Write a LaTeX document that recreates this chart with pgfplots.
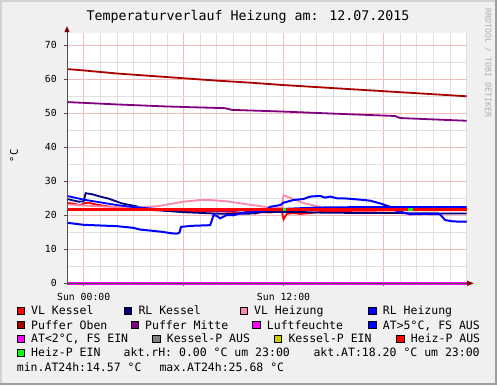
\documentclass[border=0pt]{standalone}
\usepackage{fontspec}
\setmainfont{DejaVu Sans Mono}
\usepackage{pgfplots}
\pgfplotsset{compat=1.18}
\usetikzlibrary{arrows.meta}
\definecolor{bggray}{RGB}{240,240,240}
\definecolor{lightedge}{RGB}{210,210,210}
\definecolor{darkedge}{RGB}{158,158,158}
\definecolor{axgray}{RGB}{80,80,80}
\definecolor{arrowred}{RGB}{128,0,0}
\definecolor{mgrid}{RGB}{242,188,188}
\definecolor{mingrid}{RGB}{224,224,224}
\definecolor{cVLK}{RGB}{255,0,0}
\definecolor{cRLK}{RGB}{0,0,128}
\definecolor{cVLH}{RGB}{255,136,170}
\definecolor{cRLH}{RGB}{0,0,255}
\definecolor{cPO}{RGB}{170,0,0}
\definecolor{cPM}{RGB}{128,0,128}
\definecolor{cLF}{RGB}{255,0,255}
\definecolor{cAT}{RGB}{0,0,255}
\definecolor{cKPA}{RGB}{128,128,128}
\definecolor{cKPE}{RGB}{204,204,0}
\definecolor{cHPA}{RGB}{255,0,0}
\definecolor{cHPE}{RGB}{0,255,0}
\definecolor{wm}{RGB}{175,175,175}
\newcommand{\legfont}{\fontsize{11.5}{12}\selectfont}
\newcommand{\legitem}[4]{%
  \filldraw[fill=#3, draw=black, line width=0.6pt] (#1pt-14.0pt, 385pt-#2pt+0.3pt) rectangle ++(7.4pt,7.4pt);
  \node[anchor=base west, inner sep=0pt] at (#1pt, 385pt-#2pt) {\legfont #4};}
\newcommand{\legtext}[3]{%
  \node[anchor=base west, inner sep=0pt] at (#1pt, 385pt-#2pt) {\legfont #3};}
\begin{document}
\begin{tikzpicture}
\path[use as bounding box] (0pt,0pt) rectangle (497pt,385pt);
\fill[bggray] (0pt,0pt) rectangle (497pt,385pt);
\fill[lightedge] (0pt,0pt) rectangle (2pt,385pt);
\fill[lightedge] (0pt,383pt) rectangle (497pt,385pt);
\fill[darkedge] (494.5pt,0pt) rectangle (497pt,385pt);
\fill[darkedge] (0pt,0pt) rectangle (497pt,2.5pt);
\begin{axis}[
  at={(67pt,101.7pt)}, anchor=south west, scale only axis,
  width=399.7pt, height=250.6pt,
  xmin=-1, xmax=23, ymin=0, ymax=73.7,
  axis background/.style={fill=white},
  axis x line*=bottom, axis y line*=left,
  axis line style={draw=none},
  xtick={0,6,12,18}, xticklabels={Sun 00:00,,Sun 12:00,},
  minor xtick={-1,0,...,23},
  ytick={0,10,...,70}, yticklabels={0,10,20,30,40,50,60,70},
  minor ytick={5,15,...,65},
  xmajorgrids, ymajorgrids, xminorgrids, yminorgrids,
  major grid style={draw=mgrid, line width=0.8pt},
  minor grid style={draw=mingrid, line width=0.8pt},
  tick align=outside, major tick length=3pt, minor tick length=0pt,
  tick style={draw=axgray, line width=0.8pt},
  xticklabel style={font=\fontsize{9.8}{10}\selectfont, anchor=base, inner sep=0pt, yshift=-14.7pt},
  yticklabel style={font=\fontsize{9.8}{10}\selectfont, anchor=base east, inner sep=0pt, xshift=-7pt, yshift=-3.4pt},
  clip=false,
]
% VL Kessel
\addplot[cVLK, line width=1.8pt] coordinates {(-1,23.7)(-0.5,23.3)(-0.2,23.0)(0.1,23.6)(0.3,23.7)(0.8,23.1)(1.5,22.6)(2.5,22.1)(3.5,21.7)(4.5,21.4)(6,21.3)(7,21.2)(8,21.2)(9,21.0)(9.5,20.6)(9.8,21.1)(10.3,20.5)(10.6,21.0)(11.2,20.8)(11.9,21.2)(12.0,18.8)(12.2,20.4)(12.6,20.7)(13,20.4)(13.5,20.6)(14,20.9)(15,21.1)(16,21.3)(18,21.4)(20,21.5)(23,21.5)};
% RL Kessel
\addplot[cRLK, line width=1.8pt] coordinates {(-1,24.8)(-0.3,24.0)(0.0,24.1)(0.12,26.5)(0.5,26.2)(1,25.5)(1.5,24.9)(2.3,23.5)(3.5,22.3)(4.7,21.4)(6,20.9)(7,20.7)(8,20.5)(9,20.4)(10,20.5)(10.5,20.8)(11,21.0)(12,21.0)(13,21.0)(14,20.8)(16,20.7)(18,20.7)(20,20.6)(23,20.5)};
% VL Heizung
\addplot[cVLH, line width=1.8pt] coordinates {(-1,23.2)(0,22.9)(1,22.6)(2,22.4)(3,22.3)(4,22.5)(4.6,22.8)(5.4,23.5)(6,24.0)(7,24.5)(7.6,24.5)(8.6,24.1)(10,23.1)(11,22.4)(11.9,22.1)(12.0,25.9)(13.2,23.6)(14.6,22.0)(16,21.9)(23,21.9)};
% RL Heizung
\addplot[cRLH, line width=1.8pt] coordinates {(-1,25.7)(0,24.6)(1,23.8)(2,23.0)(3,22.4)(4,22.0)(5,21.7)(7,21.5)(9,21.4)(11,21.6)(12,21.9)(14,22.3)(16,22.4)(23,22.4)};
% Puffer Oben
\addplot[cPO, line width=1.8pt] coordinates {(-1,63.0)(0,62.6)(2,61.7)(4,61.0)(6,60.3)(8,59.6)(10,59.0)(12,58.3)(14,57.7)(16,57.1)(18,56.5)(20,55.9)(22,55.3)(23,55.0)};
% Puffer Mitte
\addplot[cPM, line width=1.8pt] coordinates {(-1,53.3)(2,52.6)(5,52.0)(8.5,51.5)(8.9,51.0)(12,50.5)(15,49.9)(18.7,49.2)(19.0,48.6)(21,48.2)(23,47.8)};
% Luftfeuchte
\addplot[cLF, line width=3pt] coordinates {(-1,0)(23,0)};
% AT
\addplot[cAT, line width=2pt] coordinates {(-1,17.8)(0,17.2)(1,17.0)(2,16.8)(3,16.3)(3.4,15.8)(4,15.5)(4.6,15.2)(5.3,14.7)(5.6,14.6)(5.75,14.9)(5.85,16.6)(6.5,16.9)(7.6,17.1)(7.8,20.1)(8.0,19.8)(8.2,19.1)(8.6,20.1)(9.0,20.0)(9.4,20.6)(10,20.9)(10.9,21.4)(11.2,22.5)(11.8,23.0)(12,23.7)(12.6,24.5)(13.2,24.8)(13.6,25.5)(14.2,25.7)(14.5,25.2)(14.8,25.5)(15.2,25.0)(15.6,25.0)(16.6,24.6)(17.2,24.3)(17.8,23.5)(18.4,22.5)(18.8,21.3)(19.6,20.3)(20.5,20.4)(21.4,20.3)(21.7,18.6)(22.2,18.2)(22.9,18.1)(23,18.2)};
% Heiz-P AUS
\addplot[cHPA, line width=2.6pt] coordinates {(-1,21.7)(23,21.7)};
% Heiz-P EIN
\addplot[cHPE, line width=2.6pt] coordinates {(11.95,21.7)(12.15,21.7)};
\addplot[cHPE, line width=2.6pt] coordinates {(19.5,21.7)(19.8,21.7)};
% axes
\draw[axgray, line width=1pt] ([yshift=-2pt]rel axis cs:0,0) -- ([yshift=1pt]rel axis cs:0,1);
\draw[axgray, line width=1pt] (rel axis cs:0,0) -- ([xshift=1pt]rel axis cs:1,0);
\fill[arrowred] ([xshift=0.5pt,yshift=2.6pt]rel axis cs:1,0) -- ++(6.5pt,-2.6pt) -- ++(-6.5pt,-2.6pt) -- cycle;
\fill[arrowred] ([xshift=-2.6pt,yshift=0.5pt]rel axis cs:0,1) -- ++(2.6pt,6pt) -- ++(2.6pt,-6pt) -- cycle;
\end{axis}
\node[anchor=base, inner sep=0pt] at (248pt,364.3pt) {\fontsize{13.3}{14}\selectfont Temperaturverlauf Heizung am: 12.07.2015};
\node[rotate=90, inner sep=0pt] at (14pt,229pt) {\fontsize{10.5}{11}\selectfont °C};
\node[rotate=-90, inner sep=0pt, text=wm] at (488pt,322pt) {\fontsize{8.3}{9}\selectfont RRDTOOL / TOBI OETIKER};
% legend
\legitem{31}{315}{cVLK}{VL Kessel}
\legitem{138.3}{315}{cRLK}{RL Kessel}
\legitem{254}{315}{cVLH}{VL Heizung}
\legitem{382.7}{315}{cRLH}{RL Heizung}
\legitem{31}{329}{cPO}{Puffer Oben}
\legitem{145}{329}{cPM}{Puffer Mitte}
\legitem{266.7}{329}{cLF}{Luftfeuchte}
\legitem{382.7}{329}{cAT}{AT>5°C, FS AUS}
\legitem{31}{342.7}{cLF}{AT<2°C, FS EIN}
\legitem{166.7}{342.7}{cKPA}{Kessel-P AUS}
\legitem{288.3}{342.7}{cKPE}{Kessel-P EIN}
\legitem{410.7}{342.7}{cHPA}{Heiz-P AUS}
\legitem{31}{356.7}{cHPE}{Heiz-P EIN}
\legtext{123.5}{356.7}{akt.rH: 0.00 °C um 23:00}
\legtext{313.3}{356.7}{akt.AT:18.20 °C um 23:00}
\legtext{16.7}{371}{min.AT24h:14.57 °C}
\legtext{159.3}{371}{max.AT24h:25.68 °C}
\end{tikzpicture}
\end{document}
